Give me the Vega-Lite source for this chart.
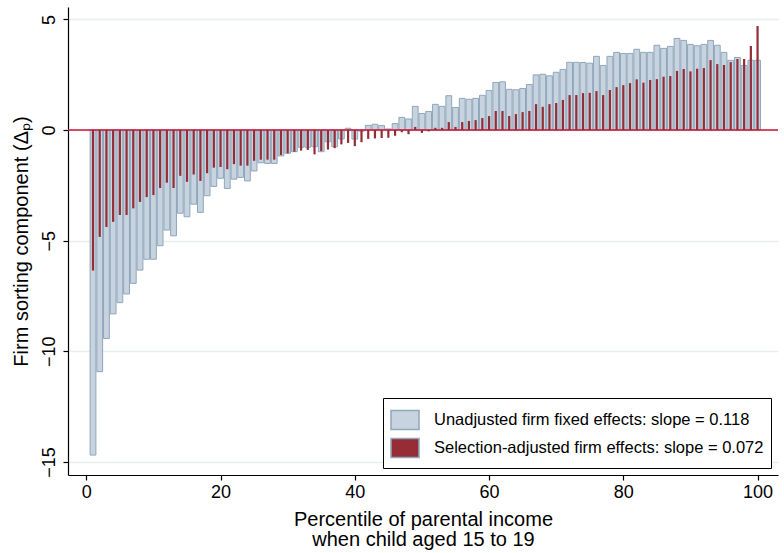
{
  "$schema": "https://vega.github.io/schema/vega-lite/v6.json",
  "width": 710,
  "height": 468,
  "autosize": "none",
  "padding": {"left": 68, "top": 7, "right": 6, "bottom": 78},
  "background": "white",
  "config": {
    "font": "Liberation Sans",
    "view": {"stroke": null},
    "axis": {"domainColor": "black", "tickColor": "black", "labelColor": "black", "titleColor": "black", "titleFontWeight": "normal", "domainWidth": 1.2, "tickWidth": 1.2}
  },
  "data": {"values": [
    {"p":1,"u":-14.69,"a":-6.35},{"p":2,"u":-10.92,"a":-4.83},{"p":3,"u":-9.42,"a":-4.38},{"p":4,"u":-8.31,"a":-4.15},{"p":5,"u":-7.80,"a":-3.84},
    {"p":6,"u":-7.41,"a":-3.84},{"p":7,"u":-6.93,"a":-3.54},{"p":8,"u":-6.33,"a":-3.25},{"p":9,"u":-5.84,"a":-3.03},{"p":10,"u":-5.84,"a":-2.94},
    {"p":11,"u":-5.23,"a":-2.62},{"p":12,"u":-4.52,"a":-2.38},{"p":13,"u":-4.78,"a":-2.62},{"p":14,"u":-3.76,"a":-2.07},{"p":15,"u":-3.92,"a":-2.34},
    {"p":16,"u":-3.35,"a":-2.01},{"p":17,"u":-3.72,"a":-2.30},{"p":18,"u":-2.97,"a":-1.95},{"p":19,"u":-2.55,"a":-1.70},{"p":20,"u":-2.18,"a":-1.67},
    {"p":21,"u":-2.64,"a":-1.77},{"p":22,"u":-2.22,"a":-1.54},{"p":23,"u":-2.14,"a":-1.61},{"p":24,"u":-2.30,"a":-1.61},{"p":25,"u":-1.85,"a":-1.39},
    {"p":26,"u":-1.48,"a":-1.34},{"p":27,"u":-1.51,"a":-1.34},{"p":28,"u":-1.51,"a":-1.34},{"p":29,"u":-1.17,"a":-1.13},{"p":30,"u":-1.05,"a":-1.05},
    {"p":31,"u":-0.98,"a":-0.98},{"p":32,"u":-0.78,"a":-0.93},{"p":33,"u":-0.78,"a":-0.90},{"p":34,"u":-0.75,"a":-1.10},{"p":35,"u":-0.98,"a":-0.95},
    {"p":36,"u":-0.53,"a":-0.88},{"p":37,"u":-0.75,"a":-0.82},{"p":38,"u":-0.40,"a":-0.65},{"p":39,"u":0.08,"a":-0.58},{"p":40,"u":-0.41,"a":-0.73},
    {"p":41,"u":-0.05,"a":-0.55},{"p":42,"u":0.21,"a":-0.40},{"p":43,"u":0.26,"a":-0.38},{"p":44,"u":0.20,"a":-0.36},{"p":45,"u":0.05,"a":-0.35},
    {"p":46,"u":0.29,"a":-0.26},{"p":47,"u":0.57,"a":-0.10},{"p":48,"u":0.50,"a":-0.19},{"p":49,"u":1.07,"a":0.14},{"p":50,"u":0.75,"a":-0.13},
    {"p":51,"u":0.84,"a":-0.06},{"p":52,"u":1.16,"a":0.10},{"p":53,"u":1.07,"a":0.10},{"p":54,"u":1.55,"a":0.36},{"p":55,"u":1.02,"a":0.14},
    {"p":56,"u":1.43,"a":0.36},{"p":57,"u":1.39,"a":0.41},{"p":58,"u":1.43,"a":0.45},{"p":59,"u":1.57,"a":0.54},{"p":60,"u":1.79,"a":0.63},
    {"p":61,"u":2.15,"a":0.86},{"p":62,"u":2.18,"a":0.86},{"p":63,"u":1.84,"a":0.63},{"p":64,"u":1.82,"a":0.72},{"p":65,"u":1.88,"a":0.81},
    {"p":66,"u":2.06,"a":0.86},{"p":67,"u":2.49,"a":1.17},{"p":68,"u":2.52,"a":1.05},{"p":69,"u":2.45,"a":1.17},{"p":70,"u":2.61,"a":1.22},
    {"p":71,"u":2.74,"a":1.36},{"p":72,"u":3.06,"a":1.58},{"p":73,"u":3.06,"a":1.58},{"p":74,"u":3.05,"a":1.67},{"p":75,"u":3.02,"a":1.68},
    {"p":76,"u":3.33,"a":1.76},{"p":77,"u":2.92,"a":1.58},{"p":78,"u":3.33,"a":1.81},{"p":79,"u":3.51,"a":1.94},{"p":80,"u":3.46,"a":2.03},
    {"p":81,"u":3.46,"a":2.12},{"p":82,"u":3.65,"a":2.29},{"p":83,"u":3.51,"a":2.14},{"p":84,"u":3.51,"a":2.26},{"p":85,"u":3.83,"a":2.30},
    {"p":86,"u":3.69,"a":2.41},{"p":87,"u":3.78,"a":2.44},{"p":88,"u":4.14,"a":2.67},{"p":89,"u":4.05,"a":2.76},{"p":90,"u":3.87,"a":2.65},
    {"p":91,"u":3.81,"a":2.77},{"p":92,"u":3.87,"a":2.80},{"p":93,"u":4.05,"a":3.16},{"p":94,"u":3.83,"a":2.98},{"p":95,"u":3.51,"a":2.94},
    {"p":96,"u":3.15,"a":3.07},{"p":97,"u":3.28,"a":3.21},{"p":98,"u":2.92,"a":3.21},{"p":99,"u":3.15,"a":3.80},{"p":100,"u":3.15,"a":4.70}
  ]},
  "layer": [
    {
      "mark": {"type": "bar", "width": 5.8, "stroke": "#8fa6bb", "strokeWidth": 1},
      "encoding": {
        "x": {"field": "p", "type": "quantitative",
              "scale": {"domain": [-1.98, 102.3], "nice": false, "zero": false},
              "axis": {"title": ["Percentile of parental income", "when child aged 15 to 19"], "values": [0, 20, 40, 60, 80, 100], "grid": false, "labelFontSize": 18, "titleFontSize": 20, "titleLineHeight": 20, "tickSize": 5, "labelPadding": 3, "titlePadding": 8}},
        "y": {"field": "u", "type": "quantitative",
              "scale": {"domain": [-15.59, 5.56], "nice": false, "zero": false},
              "axis": {"title": "Firm sorting component (Δₚ)", "values": [-15, -10, -5, 0, 5], "grid": true, "gridColor": "#e6eef0", "gridWidth": 1.5, "labelAngle": -90, "labelAlign": "center", "labelBaseline": "bottom", "labelFontSize": 18, "titleFontSize": 20, "tickSize": 5, "labelPadding": 5, "titlePadding": 9}},
        "color": {"datum": "Unadjusted firm fixed effects: slope = 0.118", "type": "nominal",
                  "scale": {"domain": ["Unadjusted firm fixed effects: slope = 0.118", "Selection-adjusted firm effects: slope = 0.072"], "range": ["#c7d3de", "#952c36"]},
                  "legend": {"title": null, "orient": "bottom-right", "offset": 7, "padding": 7, "strokeColor": "black", "fillColor": "white", "labelFont": "Liberation Sans", "labelFontSize": 16.5, "labelColor": "black", "labelOffset": 14, "symbolType": "M-1,-0.68H1V0.68H-1Z", "symbolSize": 784, "rowPadding": 0, "labelLimit": 500,
                             "labelExpr": "datum.label + '\u2003\u2003'",
                             "encode": {"symbols": {"update": {"stroke": {"signal": "datum.value === 'Unadjusted firm fixed effects: slope = 0.118' ? '#9bb0c2' : '#8e1f2b'"}, "strokeWidth": {"value": 1}, "fillOpacity": {"signal": "datum.value === 'Unadjusted firm fixed effects: slope = 0.118' ? 1 : 0.78"}}}}}}
      }
    },
    {
      "data": {"values": [{}]},
      "mark": {"type": "rule", "color": "#cc1236", "strokeWidth": 1.5},
      "encoding": {"y": {"datum": 0}}
    },
    {
      "mark": {"type": "bar", "width": 2.2},
      "encoding": {
        "x": {"field": "p", "type": "quantitative"},
        "y": {"field": "a", "type": "quantitative"},
        "color": {"datum": "Selection-adjusted firm effects: slope = 0.072", "type": "nominal"}
      }
    }
  ]
}
